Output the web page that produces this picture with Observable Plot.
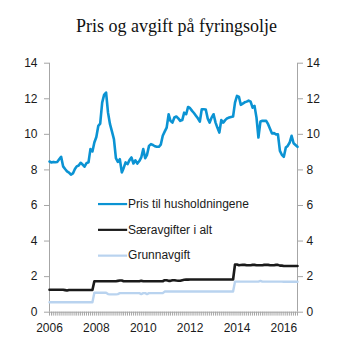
<!DOCTYPE html>
<html>
<head>
<meta charset="utf-8">
<script src="https://cdn.jsdelivr.net/npm/d3@7"></script>
<script src="https://cdn.jsdelivr.net/npm/@observablehq/plot@0.6"></script>
<style>
  html, body { margin: 0; padding: 0; background: #fff; }
  #title { height: 32px; padding-top: 16px; text-align: center; font-family: "Liberation Serif", "DejaVu Serif", serif; font-size: 18px; line-height: 20px; color: #111; }
  #chart svg { display: block; }
</style>
</head>
<body>
<div id="title">Pris og avgift på fyringsolje</div>
<div id="chart"></div>
<script>
const titleText = "Pris og avgift på fyringsolje";
const seriesNames = ["Pris til husholdningene", "Særavgifter i alt", "Grunnavgift"];
const startYear = 2006;
const yTicks = [0, 2, 4, 6, 8, 10, 12, 14];
const xTickYears = [2006, 2008, 2010, 2012, 2014, 2016];

// Monthly values, Jan 2006 - Aug 2016 (kr per liter)
const pris = [
  8.47, 8.42, 8.45, 8.43, 8.45, 8.6, 8.74, 8.2, 8.05, 7.92, 7.85, 7.73,
  7.8, 8.05, 8.2, 8.25, 8.4, 8.3, 8.18, 8.38, 8.43, 9.17, 9.04, 9.54,
  9.85, 10.48, 10.6, 11.78, 12.22, 12.35, 11.22, 10.57, 10.15, 9.73, 8.66, 8.45,
  8.6, 7.86, 8.1, 8.42, 8.33, 8.55, 8.7, 8.36, 8.54, 8.36, 8.5, 8.7,
  9.17, 8.66, 8.85, 9.35, 9.45, 9.4, 9.33, 9.3, 9.3, 9.42, 9.92, 10.15,
  10.38, 11.13, 10.76, 10.66, 10.95, 11.0, 10.9, 10.76, 10.8, 11.22, 11.13, 11.54,
  11.47, 11.32, 11.2, 11.05, 10.9, 10.72, 11.41, 11.41, 11.4, 10.9, 10.66, 10.94,
  11.13, 10.66, 10.38, 10.1, 10.8, 10.66, 10.8, 10.9, 10.95, 10.98, 11.0, 11.78,
  12.16, 12.1, 11.66, 11.73, 11.8, 11.84, 11.9, 11.84, 11.5, 11.6, 10.94, 9.82,
  10.72, 10.76, 10.76, 10.76, 10.57, 10.3, 10.05, 10.07, 10.0, 10.0, 9.07, 8.85,
  8.74, 9.26, 9.35, 9.54, 9.92, 9.5, 9.4, 9.3
];
const saeravgifter = [
  1.26, 1.26, 1.26, 1.26, 1.26, 1.26, 1.26, 1.26, 1.24, 1.22, 1.25, 1.25,
  1.25, 1.25, 1.25, 1.25, 1.25, 1.25, 1.25, 1.25, 1.25, 1.25, 1.25, 1.74,
  1.74, 1.74, 1.74, 1.74, 1.74, 1.74, 1.74, 1.74, 1.74, 1.74, 1.74, 1.76,
  1.78, 1.78, 1.74, 1.74, 1.74, 1.74, 1.74, 1.74, 1.74, 1.74, 1.74, 1.77,
  1.74, 1.74, 1.74, 1.74, 1.74, 1.74, 1.74, 1.74, 1.74, 1.74, 1.74, 1.8,
  1.8, 1.76, 1.76, 1.8, 1.8, 1.78, 1.77, 1.77, 1.8, 1.82, 1.83, 1.83,
  1.84, 1.84, 1.84, 1.84, 1.84, 1.84, 1.84, 1.84, 1.84, 1.84, 1.84, 1.84,
  1.84, 1.84, 1.84, 1.84, 1.84, 1.84, 1.84, 1.84, 1.84, 1.84, 1.84, 2.68,
  2.68, 2.64, 2.65, 2.66, 2.66, 2.64, 2.64, 2.64, 2.66, 2.66, 2.64, 2.64,
  2.64, 2.64, 2.66, 2.66, 2.66, 2.64, 2.64, 2.64, 2.66, 2.66, 2.62, 2.62,
  2.6, 2.6, 2.6, 2.6, 2.6, 2.6, 2.6, 2.6
];
const grunnavgift = [
  0.56, 0.56, 0.56, 0.56, 0.56, 0.56, 0.56, 0.56, 0.56, 0.56, 0.56, 0.56,
  0.56, 0.56, 0.56, 0.56, 0.56, 0.56, 0.56, 0.56, 0.56, 0.56, 0.56, 1.09,
  1.09, 1.09, 1.09, 1.09, 1.09, 1.09, 1.02, 1.0, 1.0, 1.0, 1.0, 1.02,
  1.07, 1.07, 1.07, 1.07, 1.07, 1.07, 1.07, 1.07, 1.07, 1.07, 1.07, 1.02,
  1.07, 1.07, 1.02, 1.07, 1.07, 1.07, 1.07, 1.07, 1.07, 1.07, 1.07, 1.16,
  1.16, 1.16, 1.16, 1.16, 1.16, 1.16, 1.16, 1.16, 1.16, 1.16, 1.16, 1.16,
  1.16, 1.16, 1.16, 1.16, 1.16, 1.16, 1.16, 1.16, 1.16, 1.16, 1.16, 1.16,
  1.16, 1.16, 1.16, 1.16, 1.16, 1.16, 1.16, 1.16, 1.16, 1.16, 1.16, 1.72,
  1.72, 1.72, 1.72, 1.72, 1.72, 1.72, 1.72, 1.72, 1.72, 1.72, 1.72, 1.72,
  1.76, 1.72, 1.72, 1.72, 1.72, 1.72, 1.72, 1.72, 1.72, 1.72, 1.72, 1.72,
  1.71, 1.71, 1.71, 1.71, 1.71, 1.71, 1.71, 1.71
];

const colors = ["#0b93d3", "#1a1a1a", "#b9d3ef"];
const widths = [2.6, 2.6, 2.4];
const seriesValues = [pris, saeravgifter, grunnavgift];

const monthDate = (i) => new Date(Date.UTC(startYear, i, 1));
const rows = [];
seriesValues.forEach((vals, s) => vals.forEach((v, i) => rows.push({date: monthDate(i), value: v, series: seriesNames[s]})));

const xStart = monthDate(0);
const xEnd = monthDate(pris.length - 1);
const months = d3.utcMonth.range(xStart, d3.utcMonth.offset(xEnd, 1));

// legend placed in data coordinates
const legend = seriesNames.map((name, i) => ({
  name, color: colors[i],
  x1: new Date(Date.UTC(2008, 0, 27)),
  x2: new Date(Date.UTC(2009, 3, 25)),
  xt: new Date(Date.UTC(2009, 5, 10)),
  y: 6.08 - i * 1.45
}));

const axisGray = "#a6a6a6";
const textColor = "#1a1a1a";

const plot = Plot.plot({
  width: 353,
  height: 305,
  marginTop: 14.7,
  marginBottom: 41.3,
  marginLeft: 49,
  marginRight: 56,
  style: {fontFamily: "'Liberation Sans', Arial, sans-serif", fontSize: "12px", color: textColor, background: "#fff"},
  x: {type: "utc", domain: [xStart, xEnd]},
  y: {domain: [0, 14]},
  marks: [
    Plot.axisY(yTicks, {anchor: "left", tickSize: 5, tickPadding: 7, stroke: axisGray, fill: textColor, label: null, fontSize: 12}),
    Plot.axisY(yTicks, {anchor: "right", tickSize: 5, tickPadding: 4, stroke: axisGray, fill: textColor, label: null, fontSize: 12}),
    Plot.ruleX(months, {x: d => d, y1: 0, y2: -0.22, stroke: axisGray, strokeWidth: 1}),
    Plot.axisX(xTickYears.map(y => new Date(Date.UTC(y, 0, 1))), {tickSize: 0, tickPadding: 11, tickFormat: d3.utcFormat("%Y"), fill: textColor, label: null, fontSize: 12}),
    Plot.ruleX([xStart, xEnd], {y1: 0, y2: 14, stroke: axisGray, strokeWidth: 1}),
    Plot.ruleY([0], {stroke: axisGray, strokeWidth: 1}),
    Plot.line(rows.filter(r => r.series === seriesNames[2]), {x: "date", y: "value", stroke: colors[2], strokeWidth: widths[2]}),
    Plot.line(rows.filter(r => r.series === seriesNames[1]), {x: "date", y: "value", stroke: colors[1], strokeWidth: widths[1]}),
    Plot.line(rows.filter(r => r.series === seriesNames[0]), {x: "date", y: "value", stroke: colors[0], strokeWidth: widths[0]}),
    Plot.link(legend, {x1: "x1", x2: "x2", y1: "y", y2: "y", stroke: "color", strokeWidth: 2.2}),
    Plot.text(legend, {x: "xt", y: "y", text: "name", textAnchor: "start", dx: -2, fill: textColor, fontSize: 12})
  ]
});
document.getElementById("chart").appendChild(plot);
</script>
</body>
</html>
